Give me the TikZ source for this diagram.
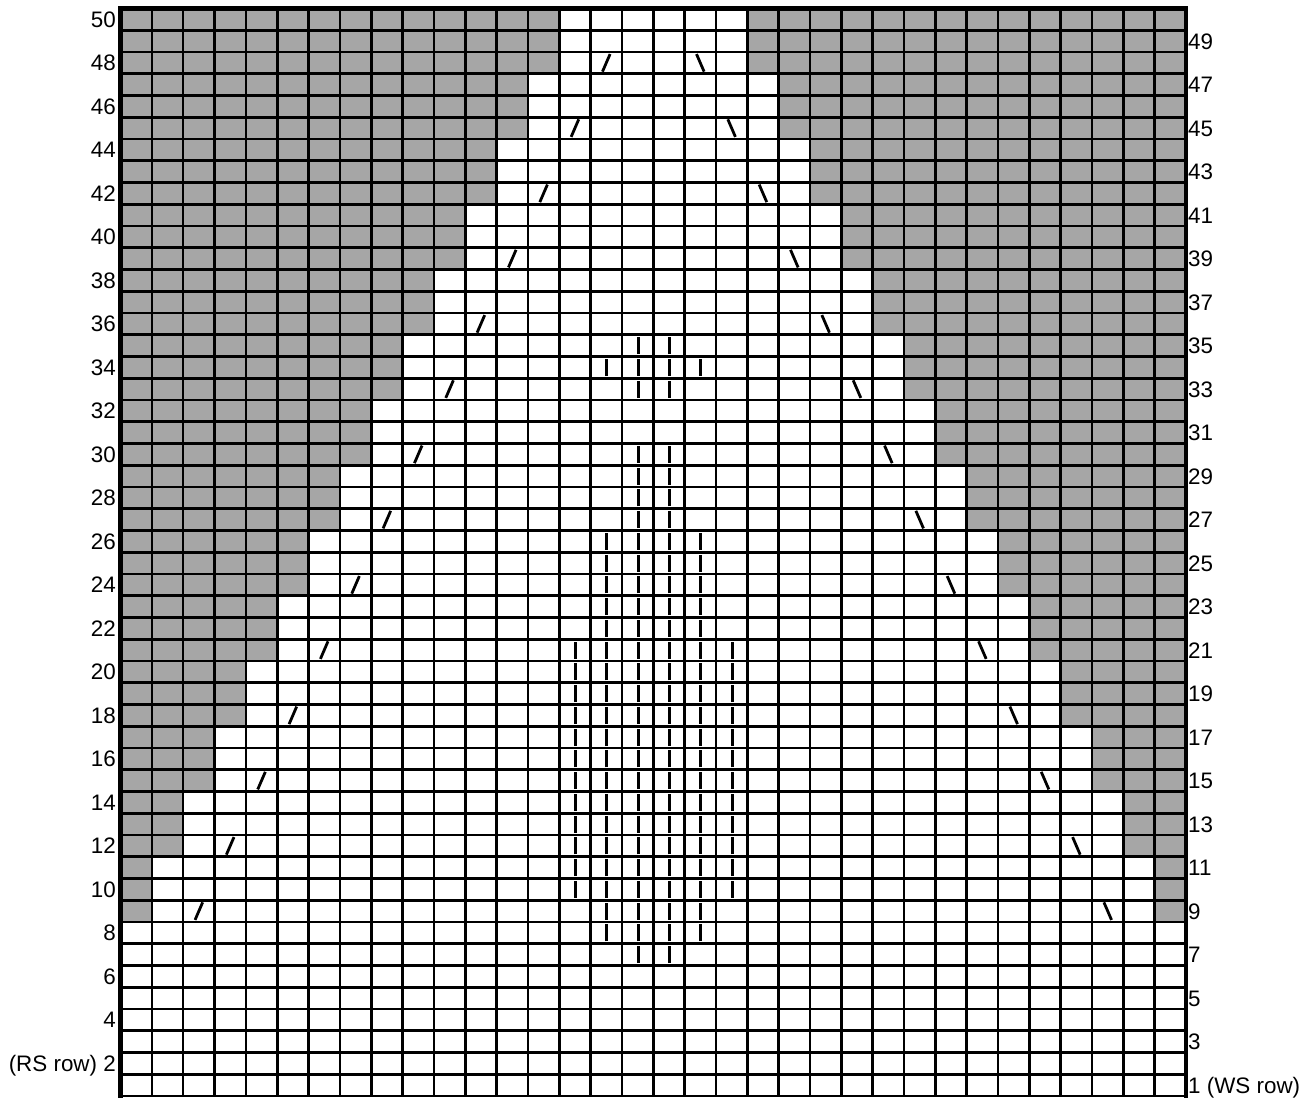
\documentclass[tikz,border=0pt]{standalone}
\usepackage{fontspec}
\setmainfont{Liberation Sans}
\definecolor{chartgray}{RGB}{166,166,166}
\tikzset{
  gridline/.style={line width=2.6pt, black},
  borderline/.style={line width=4.3pt, black, line join=miter},
  markline/.style={line width=2.8pt, black},
  barline/.style={line width=3pt, black},
  lbl/.style={inner sep=0pt, font=\fontsize{22.4pt}{26pt}\selectfont}
}
\begin{document}
\begin{tikzpicture}[x=1pt,y=1pt]
\useasboundingbox (0,0) rectangle (1316,1097);
\begin{scope}[shift={(120.5pt,1pt)}, x=31.34pt, y=21.75pt]
  % grey background steps
  \foreach \r in {9,...,50}{
    \pgfmathtruncatemacro{\g}{ceil((\r-8)/3)}
    \fill[chartgray] (0,\r-1) rectangle (\g,\r);
    \fill[chartgray] (34-\g,\r-1) rectangle (34,\r);
  }
  % grid
  \foreach \c in {1,...,33} \draw[gridline] (\c,0) -- (\c,50);
  \foreach \r in {0,...,49} \draw[gridline] (0,\r) -- (34,\r);
  % border
  \draw[borderline] (0,-0.2) -- (0,50) -- (34,50) -- (34,-0.2);
  % decrease slashes
  \foreach \r in {9,12,...,48}{
    \pgfmathtruncatemacro{\g}{(\r-6)/3}
    \draw[markline] (\g+1.5,\r-0.5) ++(-3.8pt,-8.8pt) -- ++(7.6pt,17.6pt);
    \draw[markline] (32.5-\g,\r-0.5) ++(-3.8pt,8.8pt) -- ++(7.6pt,-17.6pt);
  }
  % vertical bars
  \foreach \r in {7,27,28,29,30,33,35}
    \foreach \c in {17,18}
      \draw[barline] (\c-0.5,\r-0.5) ++(0.6pt,-8.5pt) -- ++(0pt,17pt);
  \foreach \r in {8,9,22,23,24,25,26,34}
    \foreach \c in {16,...,19}
      \draw[barline] (\c-0.5,\r-0.5) ++(0.6pt,-8.5pt) -- ++(0pt,17pt);
  \foreach \r in {10,...,21}
    \foreach \c in {15,...,20}
      \draw[barline] (\c-0.5,\r-0.5) ++(0.6pt,-8.5pt) -- ++(0pt,17pt);
\end{scope}
% row labels
\foreach \r in {4,6,...,50}
  \node[lbl, anchor=base east] (L\r) at (116, {1+21.75*(\r-0.5)-8}) {\r};
\node[lbl, anchor=base east] (L2) at (116, {1+21.75*1.5-8}) {(RS row) 2};
\foreach \r in {3,5,...,49}
  \node[lbl, anchor=base west] (R\r) at (1188, {1+21.75*(\r-0.5)-8}) {\r};
\node[lbl, anchor=base west] (R1) at (1188, {1+21.75*0.5-8}) {1 (WS row)};
\end{tikzpicture}
\end{document}
